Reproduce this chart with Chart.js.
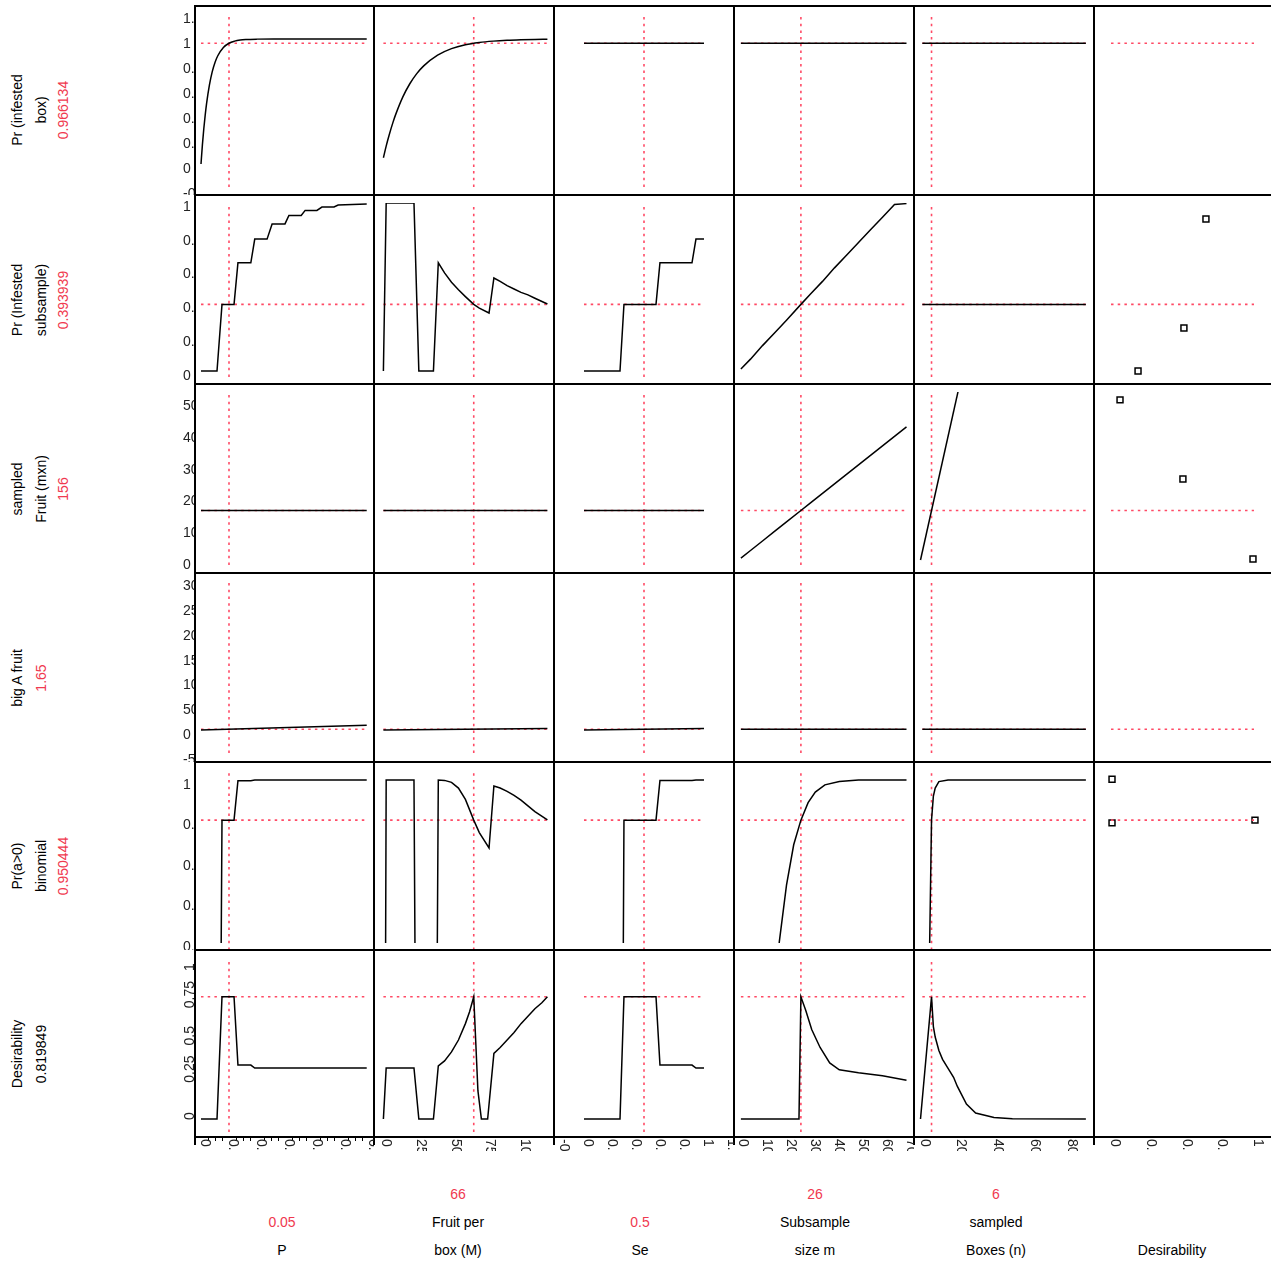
<!DOCTYPE html>
<html>
<head>
<meta charset="utf-8">
<title>Prediction profiler</title>
<script src="https://cdn.jsdelivr.net/npm/chart.js@4.4.1/dist/chart.umd.min.js"></script>
<style>
  body { margin: 0; background: #fff; }
  #page { position: relative; width: 1271px; height: 1262px; overflow: hidden; font-family: "Liberation Sans", Arial, sans-serif; font-size: 14px; color: #000; }
  #page canvas { position: absolute; }
  .lab { position: absolute; white-space: nowrap; line-height: 16px; transform: translate(-50%, -50%); }
  .side { transform: translate(-50%, -50%) rotate(-90deg); }
  .red { color: #f0394f; }
</style>
</head>
<body>
<div id="page"></div>
<script>
//Factors (columns) and responses (rows)
const factorNames = [["P"], ["Fruit per", "box (M)"], ["Se"], ["Subsample", "size m"], ["sampled", "Boxes (n)"], ["Desirability"]];
const factorSettings = ["0.05", "66", "0.5", "26", "6", null];
const factorValues = [0.05, 66, 0.5, 26, 6, null];
const factorSpan = [[0, 0.296], [1, 119], [0, 1], [1, 70], [1, 90], [0, 1]];

const responseNames = [["Pr (infested", "box)"], ["Pr (Infested", "subsample)"], ["sampled", "Fruit (mxn)"], ["big A fruit"], ["Pr(a>0)", "binomial"], ["Desirability"]];
const responseSettings = ["0.966134", "0.393939", "156", "1.65", "0.950444", "0.819849"];
const responseValues = [0.966134, 0.393939, 156, 1.65, 0.950444, 0.819849];

//Axis ranges and ticks
const xMin = [-0.0125, -5.76, -0.25, -1.875, -3.54, -0.119];
const xMax = [0.309, 123.74, 1.25, 73.125, 94.42, 1.14];
const xTicks = [[0, 0.05, 0.1, 0.15, 0.2, 0.25, 0.3], [0, 25, 50, 75, 100], [-0.2, 0, 0.2, 0.4, 0.6, 0.8, 1, 1.2], [0, 10, 20, 30, 40, 50, 60, 70], [0, 20, 40, 60, 80], [0, 0.25, 0.5, 0.75, 1]];
const yMin = [-0.248, -0.077, -41, -64.6, 0.790, -0.1275];
const yMax = [1.272, 1.041, 555, 317.2, 1.0222, 1.134];
const yTicks = [[-0.2, 0, 0.2, 0.4, 0.6, 0.8, 1, 1.2], [0, 0.2, 0.4, 0.6, 0.8, 1], [0, 100, 200, 300, 400, 500], [-50, 0, 50, 100, 150, 200, 250, 300], [0.8, 0.85, 0.9, 0.95, 1], [0, 0.25, 0.5, 0.75, 1]];

//Reference (current setting) vertical line extent per row
const refLo = [-0.184, -0.036, -16, -46.5, 0.79, -0.087];
const refHi = [1.19, 0.982, 527, 299, 1.012, 1.067];

//Column 1: P
const pFine = [0, 0.0025, 0.005, 0.0075, 0.01, 0.015, 0.02, 0.025, 0.03, 0.04, 0.05, 0.06, 0.07, 0.08, 0.1, 0.13, 0.17, 0.22, 0.296];
const boxByP = [0, 0.153, 0.282, 0.391, 0.485, 0.631, 0.737, 0.812, 0.866, 0.932, 0.966, 0.983, 0.992, 0.996, 0.999, 1, 1, 1, 1];
const pStep = [0, 0.0286, 0.0375, 0.059, 0.066, 0.089, 0.096, 0.118, 0.127, 0.15, 0.157, 0.179, 0.186, 0.207, 0.216, 0.2375, 0.245, 0.296];
const subByP = [0, 0, 0.394, 0.394, 0.64, 0.64, 0.78, 0.78, 0.87, 0.87, 0.92, 0.92, 0.95, 0.95, 0.97, 0.97, 0.982, 0.988];
const binByP = [0, 0, 0.9504, 0.9504, 0.999, 0.999, 1, 1, 1, 1, 1, 1, 1, 1, 1, 1, 1, 1];
const desByP = [0, 0, 0.8198, 0.8198, 0.362, 0.362, 0.342, 0.342, 0.342, 0.342, 0.342, 0.342, 0.342, 0.342, 0.342, 0.342, 0.342, 0.342];
const bigAByP = [0, 9.8];

//Column 2: Fruit per box (M)
const mFine = [1, 3, 5, 8, 10, 15, 20, 25, 30, 40, 50, 60, 70, 80, 90, 100, 110, 119];
const boxByM = [0.05, 0.143, 0.226, 0.337, 0.401, 0.537, 0.642, 0.723, 0.785, 0.871, 0.923, 0.954, 0.972, 0.983, 0.990, 0.994, 0.9965, 0.998];
const mStep = [1, 3, 23, 26.5, 37, 40.5, 45, 50, 55, 60, 66, 70, 77, 80.5, 85, 90, 95, 100, 105, 110, 119];
const subByM = [0, 0.994, 0.994, 0, 0, 0.64, 0.58, 0.525, 0.48, 0.44, 0.394, 0.372, 0.343, 0.55, 0.53, 0.505, 0.485, 0.465, 0.45, 0.43, 0.396];
const binByM = [0, 1, 1, 0, 0, 1, 0.9995, 0.997, 0.99, 0.976, 0.9504, 0.935, 0.916, 0.9926, 0.99, 0.986, 0.981, 0.975, 0.968, 0.961, 0.9506];
const mDesStep = [1, 3, 23, 26.5, 37, 40.5, 45, 50, 55, 60, 63, 66, 69, 71.5, 76, 80.5, 85, 90, 95, 100, 105, 110, 115, 119];
const desByM = [0, 0.342, 0.342, 0, 0, 0.356, 0.39, 0.45, 0.53, 0.64, 0.72, 0.8198, 0.19, 0, 0, 0.44, 0.48, 0.53, 0.58, 0.64, 0.69, 0.74, 0.78, 0.8198];
const bigAByM = [0.025, 2.97];

//Column 3: Se
const seStep = [0, 0.3, 0.333, 0.6, 0.633, 0.9, 0.933, 1];
const subBySe = [0, 0, 0.394, 0.394, 0.64, 0.64, 0.78, 0.78];
const binBySe = [0, 0, 0.9504, 0.9504, 0.9995, 0.9995, 1, 1];
const desBySe = [0, 0, 0.8198, 0.8198, 0.362, 0.362, 0.342, 0.342];
const bigABySe = [0, 3.3];

//Column 4: Subsample size m
const mSubX = [1, 5, 10, 15, 20, 26, 30, 35, 40, 45, 50, 55, 60, 65, 70];
const subBym = [0.012, 0.07, 0.15, 0.225, 0.30, 0.394, 0.455, 0.53, 0.61, 0.685, 0.76, 0.835, 0.91, 0.985, 0.99];
const fruitBym = [6, 30, 60, 90, 120, 156, 180, 210, 240, 270, 300, 330, 360, 390, 420];
const mBinX = [1, 10, 14, 17, 20, 23, 26, 29, 32, 36, 42, 50, 70];
const binBym = [0.05, 0.45, 0.68, 0.80, 0.87, 0.92, 0.9504, 0.972, 0.985, 0.994, 0.998, 1, 1];
const mDesX = [1, 25.2, 26, 28, 30.5, 34, 38, 42, 50, 60, 70];
const desBym = [0, 0, 0.8198, 0.73, 0.6, 0.48, 0.376, 0.33, 0.31, 0.29, 0.26];

//Column 5: sampled Boxes (n)
const nFruitX = [0, 25];
const fruitByn = [0, 650];
const nBinX = [1, 3, 5, 6, 7, 8, 10, 15, 90];
const binByn = [0.2, 0.5, 0.80, 0.9504, 0.98, 0.99, 0.998, 1, 1];
const nDesX = [0, 6, 7, 8, 10, 12, 15, 18, 20, 25, 30, 40, 50, 90];
const desByn = [0, 0.8198, 0.62, 0.55, 0.46, 0.4, 0.34, 0.28, 0.22, 0.1, 0.04, 0.01, 0.002, 0];

//Column 6: desirability function points
const desPtsSub = [0.189, 0.51, 0.664];
const subPts = [0, 0.254, 0.899];
const desPtsFruit = [0.063, 0.503, 0.993];
const fruitPts = [505, 255.5, 3];
const desPtsBin = [0.007, 0.007, 1.007];
const binPts = [1.001, 0.947, 0.9504];

//Which series goes in which cell
const curveTable = [
    [[pFine, boxByP], [mFine, boxByM], "flat", "flat", "flat", null],
    [[pStep, subByP], [mStep, subByM], [seStep, subBySe], [mSubX, subBym], "flat", null],
    ["flat", "flat", "flat", [mSubX, fruitBym], [nFruitX, fruitByn], null],
    [[factorSpan[0], bigAByP], [factorSpan[1], bigAByM], [factorSpan[2], bigABySe], "flat", "flat", null],
    [[pStep, binByP], [mStep, binByM], [seStep, binBySe], [mBinX, binBym], [nBinX, binByn], null],
    [[pStep, desByP], [mDesStep, desByM], [seStep, desBySe], [mDesX, desBym], [nDesX, desByn], null]
];
const pointTable = [null, [desPtsSub, subPts], [desPtsFruit, fruitPts], null, [desPtsBin, binPts], null];
const smoothCells = ["0,0", "0,1"];

//Layout
const colEdges = [194, 374, 554, 734, 914, 1094, 1274];
const rowEdges = [5, 195, 384, 573, 762, 950, 1138];
const axisW = 12, axisH = 30;
const sideX = [17, 41, 63];
const bottomX = [282, 458, 640, 815, 996, 1172];
const bottomY = [1194, 1222, 1250];

const RED = "#ff4a65";
const FONT = '14px "Liberation Sans", Arial, sans-serif';

Chart.defaults.font.family = '"Liberation Sans", Arial, sans-serif';

//Frame, tick labels and small ticks
const profilerDeco = {
    id: "profilerDeco",
    afterDraw(chart, args, opts) {
        const {ctx, chartArea: a, scales} = chart;
        const r = opts.row, c = opts.col;
        const w = a.right - a.left, h = a.bottom - a.top;
        ctx.save();
        ctx.fillStyle = "#000";
        ctx.fillRect(a.left, a.top, c === 0 ? 2 : 1, h);
        ctx.fillRect(a.right - 1, a.top, 1, h);
        ctx.fillRect(a.left, a.top, w, r === 0 ? 2 : 1);
        ctx.fillRect(a.left, a.bottom - (r === 5 ? 2 : 1), w, r === 5 ? 2 : 1);
        ctx.font = FONT;
        ctx.fillStyle = "#222";

        if (c === 0) {
            ctx.save();
            ctx.beginPath();
            ctx.rect(0, a.top, a.left, h);
            ctx.clip();
            scales.y.ticks.forEach(t => {
                const y = scales.y.getPixelForValue(t.value);
                const txt = String(t.value);
                if (r === 5) {
                    ctx.save();
                    ctx.translate(a.left, y + 1);
                    ctx.rotate(-Math.PI / 2);
                    ctx.textAlign = "left";
                    ctx.textBaseline = "alphabetic";
                    ctx.fillText(txt, 0, 0);
                    ctx.restore();
                } else {
                    ctx.textAlign = "left";
                    ctx.textBaseline = "middle";
                    ctx.fillText(txt, 1, y + 5);
                }
            });
            ctx.restore();
        }

        if (r === 5) {
            ctx.fillStyle = "#000";
            ctx.fillRect(a.left, a.bottom, c === 0 ? 2 : 1, 7);
            ctx.fillRect(a.right - 1, a.bottom, 1, 7);
            if (c === 0) { //minor ticks on P axis
                for (let i = 1; i < 24; i++) {
                    if (i % 4 === 0) continue;
                    const x = Math.round(scales.x.getPixelForValue(i * 0.0125));
                    ctx.fillRect(x, a.bottom, 1, 3);
                }
            }
            ctx.save();
            ctx.beginPath();
            ctx.rect(a.left, a.bottom, w, 13);
            ctx.clip();
            ctx.fillStyle = "#222";
            scales.x.ticks.forEach(t => {
                const x = scales.x.getPixelForValue(t.value);
                ctx.save();
                ctx.translate(x + 4, a.bottom + 1);
                ctx.rotate(Math.PI / 2);
                ctx.textAlign = "left";
                ctx.textBaseline = "middle";
                ctx.fillText(String(t.value), 0, 0);
                ctx.restore();
            });
            ctx.restore();
        }
        ctx.restore();
    }
};

//Build datasets of one cell
function cellDatasets(r, c) {
    const sets = [];
    const entry = curveTable[r][c];
    if (entry) {
        const xs = entry === "flat" ? factorSpan[c] : entry[0];
        const ys = entry === "flat" ? [responseValues[r], responseValues[r]] : entry[1];
        sets.push({
            data: xs.map((x, i) => ({x: x, y: ys[i]})),
            showLine: true,
            borderColor: "#000",
            borderWidth: 1.5,
            pointRadius: 0,
            cubicInterpolationMode: smoothCells.includes(r + "," + c) ? "monotone" : "default",
            clip: {left: 0, right: 0, top: -8, bottom: -7}
        });
    }
    const dotted = {showLine: true, borderColor: RED, borderWidth: 1.6, borderDash: [2.5, 4.2], pointRadius: 0};
    if (!(r === 5 && c === 5)) {
        sets.push(Object.assign({
            data: factorSpan[c].map(x => ({x: x, y: responseValues[r]}))
        }, dotted));
    }
    if (c < 5) {
        sets.push(Object.assign({
            data: [{x: factorValues[c], y: refLo[r]}, {x: factorValues[c], y: refHi[r]}]
        }, dotted));
    }
    const pts = c === 5 ? pointTable[r] : null;
    if (pts) {
        sets.push({
            data: pts[0].map((x, i) => ({x: x, y: pts[1][i]})),
            showLine: false,
            pointStyle: "rect",
            pointRadius: 4.2,
            borderWidth: 1.5,
            borderColor: "#000",
            backgroundColor: "#fff"
        });
    }
    return sets;
}

const page = document.getElementById("page");

//Create the grid of small charts
for (let r = 0; r < 6; r++) {
    for (let c = 0; c < 6; c++) {
        const left = colEdges[c] - (c === 0 ? axisW : 0);
        const top = rowEdges[r];
        const w = colEdges[c + 1] - colEdges[c] + (c === 0 ? axisW : 0);
        const h = rowEdges[r + 1] - rowEdges[r] + (r === 5 ? axisH : 0);
        const canvas = document.createElement("canvas");
        canvas.width = w;
        canvas.height = h;
        canvas.style.left = left + "px";
        canvas.style.top = top + "px";
        canvas.style.width = w + "px";
        canvas.style.height = h + "px";
        page.appendChild(canvas);

        new Chart(canvas, {
            type: "scatter",
            data: {datasets: cellDatasets(r, c)},
            options: {
                responsive: false,
                animation: false,
                events: [],
                layout: {padding: 0, autoPadding: false},
                plugins: {
                    legend: {display: false},
                    tooltip: {enabled: false},
                    profilerDeco: {row: r, col: c}
                },
                scales: {
                    x: {
                        type: "linear", min: xMin[c], max: xMax[c],
                        ticks: {display: false}, grid: {display: false}, border: {display: false},
                        afterBuildTicks: s => { s.ticks = xTicks[c].map(v => ({value: v})); },
                        afterFit: s => { s.height = r === 5 ? axisH : 0; }
                    },
                    y: {
                        type: "linear", min: yMin[r], max: yMax[r],
                        ticks: {display: false}, grid: {display: false}, border: {display: false},
                        afterBuildTicks: s => { s.ticks = yTicks[r].map(v => ({value: v})); },
                        afterFit: s => { s.width = c === 0 ? axisW : 0; }
                    }
                }
            },
            plugins: [profilerDeco]
        });
    }
}

//Text labels around the grid
function addLabel(text, x, y, red, side) {
    const d = document.createElement("div");
    d.className = "lab" + (side ? " side" : "") + (red ? " red" : "");
    d.style.left = x + "px";
    d.style.top = y + "px";
    d.textContent = text;
    page.appendChild(d);
}

responseNames.forEach((lines, r) => {
    const cy = (rowEdges[r] + rowEdges[r + 1]) / 2 + 10;
    const all = lines.map(t => [t, false]).concat([[responseSettings[r], r !== 5]]);
    all.forEach((item, i) => addLabel(item[0], sideX[i], cy, item[1], true));
});

factorNames.forEach((lines, c) => {
    const all = (factorSettings[c] ? [[factorSettings[c], true]] : []).concat(lines.map(t => [t, false]));
    const n = all.length;
    all.forEach((item, i) => addLabel(item[0], bottomX[c], bottomY[3 - n + i], item[1], false));
});
</script>
</body>
</html>
